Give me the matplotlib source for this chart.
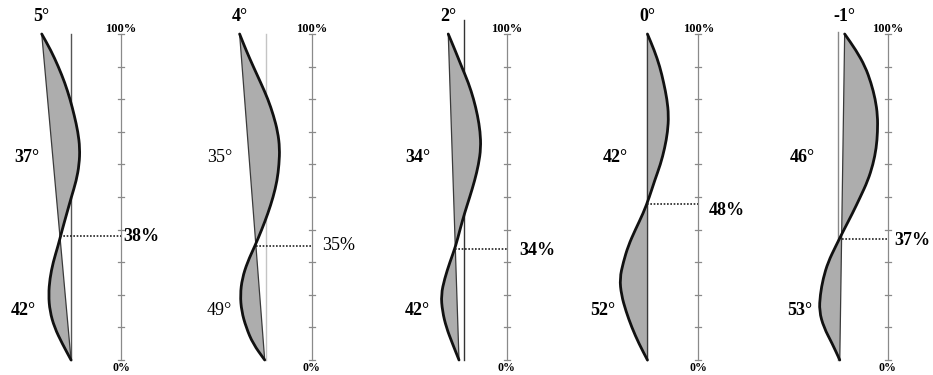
import matplotlib
matplotlib.use("Agg")
import matplotlib.pyplot as plt
from matplotlib.path import Path
from matplotlib.patches import PathPatch

# chord tilt (top), angles of the upper / lower bulge, split height in %
tilt_labels = ["5°", "4°", "2°", "0°", "-1°"]
upper_angles = [37, 35, 34, 42, 46]
lower_angles = [42, 49, 42, 52, 53]
split_pct = [38, 35, 34, 48, 37]

# curve offsets from the bottom end, sampled every 5 % of height (0 -> 100)
heights = list(range(0, 101, 5))
curve_1 = [0, -2.7, -5.1, -6.5, -6.9, -6.5, -5.5, -4.0, -2.7, -1.3,
           0.1, 1.6, 2.5, 2.7, 2.1, 1.0, -0.3, -1.9, -3.9, -6.2, -9.0]
curve_2 = [0, -3.6, -5.7, -7.1, -7.5, -6.9, -5.3, -3.0, -0.9, 1.0,
           2.6, 3.8, 4.4, 4.6, 4.0, 2.7, 1.0, -1.2, -3.5, -5.7, -7.7]
curve_3 = [0, -2.0, -3.9, -5.1, -5.5, -4.4, -2.8, -1.0, 0.3, 1.7,
           3.3, 4.8, 6.0, 6.7, 6.5, 5.7, 4.5, 2.9, 0.8, -1.2, -3.3]
curve_4 = [0, -2.6, -4.8, -6.6, -8.0, -8.5, -7.4, -5.9, -3.7, -1.3,
           0.6, 2.2, 4.0, 5.3, 6.2, 6.5, 6.0, 5.0, 3.8, 2.1, 0]
curve_5 = [0, -2.3, -4.9, -6.3, -6.0, -5.1, -3.6, -1.2, 1.3, 3.9,
           6.3, 8.6, 10.2, 11.2, 11.6, 11.6, 10.9, 9.6, 7.8, 5.0, 1.5]
curves = [curve_1, curve_2, curve_3, curve_4, curve_5]

# layout (units: 1 unit = 1 % of the scale height)
scale_x = [37.1, 95.6, 155.4, 214.2, 272.3]
chord_shift = [-15.3, -14.4, -14.6, -15.6, -14.7]
ref_shift = [-15.3, -13.9, -13.1, -15.6, -15.2]
ref_top = [100, 100, 104.3, 100, 100.6]
ref_colors = ["#555555", "#c4c4c4", "#333333", "#777777", "#888888"]
upper_lab_x = [-28.8, -28.2, -27.3, -25.5, -26.1]
lower_lab_x = [-30.1, -28.2, -27.3, -29.4, -27.0]
pct_lab_dx = [0.6, 3.1, 4.0, 3.1, 2.1]
pct_lab_dy = [0, 0, -0.5, -2.0, -0.3]
weights = ["bold", "normal", "bold", "bold", "bold"]

plt.rcParams["font.family"] = ["Liberation Serif", "DejaVu Serif"]

fig = plt.figure(figsize=(9.33, 3.75), dpi=100)
ax = fig.add_axes([0, 0, 1, 1])
ax.set_xlim(0, 933 / 3.26)
ax.set_ylim(-15 / 3.26, 100 + 34 / 3.26)
ax.axis("off")


def smooth_path(xs, ys):
    pts = list(zip(xs, ys))
    verts = [pts[0], ((pts[0][0] + pts[1][0]) / 2, (pts[0][1] + pts[1][1]) / 2)]
    codes = [Path.MOVETO, Path.LINETO]
    for i in range(1, len(pts) - 1):
        mid = ((pts[i][0] + pts[i + 1][0]) / 2, (pts[i][1] + pts[i + 1][1]) / 2)
        verts += [pts[i], mid]
        codes += [Path.CURVE3, Path.CURVE3]
    verts.append(pts[-1])
    codes.append(Path.LINETO)
    return verts, codes


for i in range(5):
    sx = scale_x[i]
    base = sx + chord_shift[i]
    xs = [base + v for v in curves[i]]
    ys = heights
    top_x = xs[-1]

    # reference vertical
    ax.plot([sx + ref_shift[i]] * 2, [0, ref_top[i]], color=ref_colors[i], lw=1.0, zorder=1)

    verts, codes = smooth_path(xs, ys)
    fill = Path(verts + [verts[0]], codes + [Path.CLOSEPOLY])
    ax.add_patch(PathPatch(fill, facecolor="#adadad", edgecolor="none", zorder=2))
    # chord
    ax.plot([base, top_x], [0, 100], color="#3a3a3a", lw=0.9, zorder=3)
    ax.add_patch(PathPatch(Path(verts, codes), facecolor="none", edgecolor="#111111",
                           lw=2.0, capstyle="round", joinstyle="round", zorder=4))

    # percentage scale
    ax.plot([sx, sx], [0, 100], color="#8a8a8a", lw=0.9, zorder=1)
    for t in range(0, 101, 10):
        ax.plot([sx - 0.9, sx + 0.9], [t, t], color="#8a8a8a", lw=0.9, zorder=1)
    ax.text(sx, 101.5, "100%", ha="center", va="center", fontsize=9, fontweight="bold")
    ax.text(sx, -2.6, "0%", ha="center", va="center", fontsize=8.5, fontweight="bold")

    # split line
    p = split_pct[i]
    cross_x = base + (top_x - base) * p / 100
    ax.plot([cross_x, sx], [p, p], color="#222222", lw=1.2, ls=(0, (1, 1)), zorder=5)
    ax.text(sx + pct_lab_dx[i], p + pct_lab_dy[i], f"{p}%", ha="left", va="center",
            fontsize=13, fontweight=weights[i])

    # angle labels
    ax.text(top_x, 105.5, tilt_labels[i], ha="center", va="center",
            fontsize=13, fontweight="bold")
    ax.text(sx + upper_lab_x[i], 62, f"{upper_angles[i]}°", ha="center", va="center",
            fontsize=13, fontweight=weights[i])
    ax.text(sx + lower_lab_x[i], 15.3, f"{lower_angles[i]}°", ha="center", va="center",
            fontsize=13, fontweight=weights[i])

fig.savefig("out.png", dpi=100)
